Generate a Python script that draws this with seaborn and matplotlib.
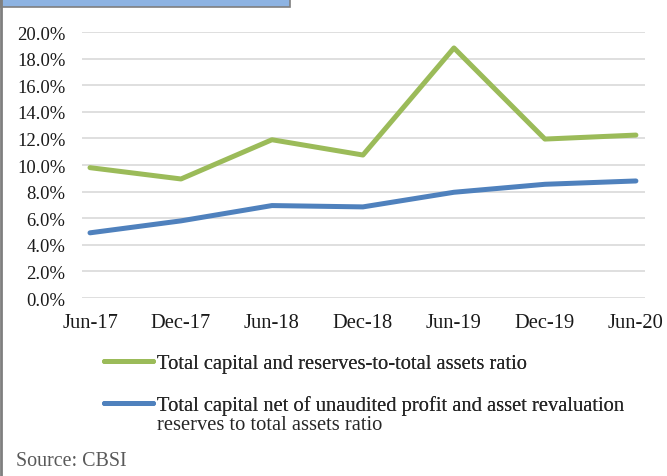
import matplotlib
matplotlib.use("Agg")
import matplotlib.pyplot as plt
import seaborn as sns
import pandas as pd
from matplotlib.patches import Rectangle
from matplotlib.lines import Line2D

periods = ["Jun-17", "Dec-17", "Jun-18", "Dec-18", "Jun-19", "Dec-19", "Jun-20"]
total_capital = [9.8, 8.95, 11.9, 10.75, 18.8, 11.95, 12.25]
net_capital = [4.9, 5.8, 6.95, 6.85, 7.95, 8.55, 8.8]
series_names = [
    "Total capital and reserves-to-total assets ratio",
    "Total capital net of unaudited profit and asset revaluation reserves to total assets ratio",
]
legend_lines = [
    ["Total capital and reserves-to-total assets ratio"],
    ["Total capital net of unaudited profit and asset revaluation", "reserves to total assets ratio"],
]
yticks = [0, 2, 4, 6, 8, 10, 12, 14, 16, 18, 20]

df = pd.DataFrame({
    "period": periods * 2,
    "x": list(range(len(periods))) * 2,
    "value": total_capital + net_capital,
    "series": [series_names[0]] * len(periods) + [series_names[1]] * len(periods),
})

sns.set_theme(style="white")
plt.rcParams["font.family"] = ["Liberation Serif", "DejaVu Serif"]

fig = plt.figure(figsize=(6.67, 4.77), dpi=100)
ax = fig.add_axes([82 / 667, 1 - 299 / 477, (645 - 82) / 667, (299 - 33) / 477])

colors = {series_names[0]: "#9bbb59", series_names[1]: "#4f81bd"}
sns.lineplot(data=df, x="x", y="value", hue="series", palette=colors, ax=ax,
             linewidth=3.6, legend=False, solid_capstyle="round")

ax.set_xlim(-0.088, 6.1)
ax.set_ylim(0, 20)
ax.set_yticks(yticks)
ax.set_yticklabels([f"{v:.1f}%" for v in yticks], fontsize=13.4, color="#1a1a1a")
ax.set_xticks(range(len(periods)))
ax.set_xticklabels(periods, fontsize=14.8, color="#1a1a1a")
ax.tick_params(axis="y", length=0, pad=12)
ax.tick_params(axis="x", length=0, pad=11)
ax.grid(axis="y", color="#d9d9d9", linewidth=1.2)
ax.set_axisbelow(True)
for s in ax.spines.values():
    s.set_visible(False)
ax.set_xlabel("")
ax.set_ylabel("")

fs = 14.8
fs_px = fs * 100 / 72
legend_y = [364, 406]
for name, lines, ly in zip(series_names, legend_lines, legend_y):
    h = Line2D([], [], color=colors[name], linewidth=3.6, solid_capstyle="round")
    leg = fig.legend([h], [lines[0]], loc="center left",
                     bbox_to_anchor=(104 / 667, 1 - ly / 477), borderaxespad=0, borderpad=0,
                     frameon=False, fontsize=fs, handlelength=49 / fs_px,
                     handletextpad=4 / fs_px, labelcolor="#262626")
    fig.add_artist(leg)
    for k, extra in enumerate(lines[1:], start=1):
        fig.text(157 / 667, 1 - (ly + 20 * k) / 477, extra, fontsize=fs, color="#262626", va="center")

fig.text(16 / 667, 1 - 462 / 477, "Source: CBSI", fontsize=14.4, color="#595959", va="center")

fig.patches.append(Rectangle((0, 1 - 8 / 477), 290 / 667, 8 / 477, transform=fig.transFigure,
                             facecolor="#8db3e2", edgecolor="#7f7f7f", linewidth=1.2))
fig.lines.append(Line2D([1 / 667, 1 / 667], [0, 1], transform=fig.transFigure, color="#7f7f7f", linewidth=2))

fig.savefig("out.png", dpi=100)
